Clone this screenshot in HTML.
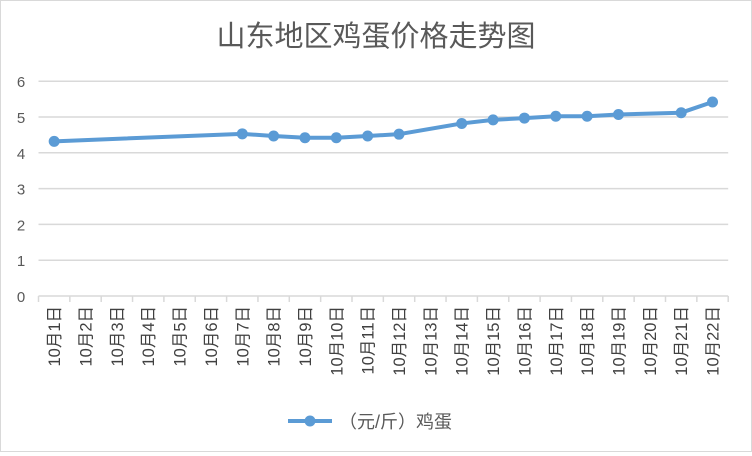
<!DOCTYPE html>
<html><head><meta charset="utf-8"><style>
body{margin:0;background:#fff}
#c{position:relative;width:752px;height:452px;box-sizing:border-box;border:1px solid #d9d9d9;background:#fff;font-family:"Liberation Sans","Noto Sans CJK SC",sans-serif}
</style></head><body>
<div id="c">
<svg id="s" width="750" height="450"></svg>
</div>
<script>
const categories=["10月1日","10月2日","10月3日","10月4日","10月5日","10月6日","10月7日","10月8日","10月9日","10月10日","10月11日","10月12日","10月13日","10月14日","10月15日","10月16日","10月17日","10月18日","10月19日","10月20日","10月21日","10月22日"];
const prices=[4.32,null,null,null,null,null,4.53,4.47,4.42,4.42,4.47,4.52,null,4.82,4.92,4.97,5.02,5.02,5.07,null,5.12,5.42];
const yTicks=[0,1,2,3,4,5,6];
const NS="http://www.w3.org/2000/svg";
const s=document.getElementById('s');
const x0=37.5,step=31.35,yb=295,yu=35.8;
const X=i=>x0+step*(i+0.5), Y=v=>yb-v*yu;
function el(t,a,p){const e=document.createElementNS(NS,t);for(const k in a)e.setAttribute(k,a[k]);(p||s).appendChild(e);return e;}
const title=el('text',{x:375,y:45,'text-anchor':'middle','font-size':29,fill:'#595959'});
title.textContent="山东地区鸡蛋价格走势图";


yTicks.forEach(v=>{
  const g=el('line',{x1:x0,x2:x0+step*categories.length,y1:Y(v),y2:Y(v),stroke:'#d9d9d9','stroke-width':1.5});
  
  
  const t=el('text',{x:20,y:Y(v)+6,'text-anchor':'middle','font-size':15,fill:'#595959'});
  t.textContent=v;
  
  
});
categories.forEach((c,i)=>{
  const tk=el('line',{x1:x0+step*i,x2:x0+step*i,y1:yb,y2:yb+6,stroke:'#d9d9d9','stroke-width':1.5});
  
  
  const t=el('text',{transform:`translate(${X(i)+6},${305}) rotate(-90)`,'text-anchor':'end','font-size':16.5,fill:'#404040'});
  t.textContent=c;
  
  
});
const tk=el('line',{x1:x0+step*categories.length,x2:x0+step*categories.length,y1:yb,y2:yb+6,stroke:'#d9d9d9','stroke-width':1.5});


const pts=prices.map((v,i)=>v==null?null:[X(i),Y(v)]).filter(p=>p);
const line=el('polyline',{points:pts.map(p=>p.join(',')).join(' '),fill:'none',stroke:'#5b9bd5','stroke-width':4,'stroke-linejoin':'round'});


prices.forEach((v,i)=>{if(v==null)return;
  const c=el('circle',{cx:X(i),cy:Y(v),r:5.5,fill:'#5b9bd5'});
  
  
});
const lg=el('g',{});


el('line',{x1:287,x2:331,y1:420,y2:420,stroke:'#5b9bd5','stroke-width':4},lg);
el('circle',{cx:309,cy:420,r:5.5,fill:'#5b9bd5'},lg);
const lt=el('text',{x:338,y:427,'font-size':18,fill:'#595959'},lg);
lt.textContent="（元/斤）鸡蛋";
</script>
</body></html>
